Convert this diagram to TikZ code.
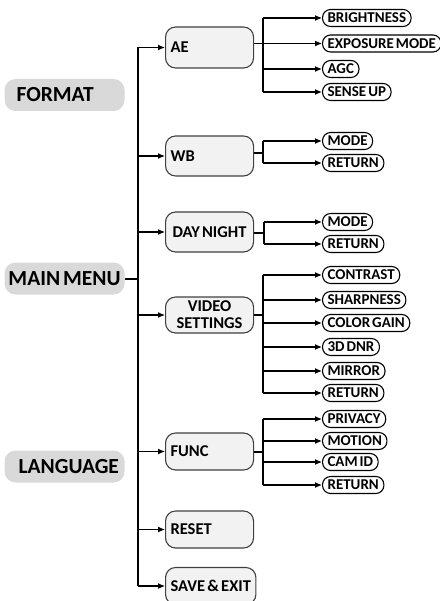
\documentclass[tikz,border=0pt]{standalone}
\usepackage{fontspec}
\setmainfont{Carlito}[WordSpace=0.6]
\usetikzlibrary{arrows.meta}
\definecolor{sidegray}{RGB}{217,217,217}
\definecolor{boxfill}{RGB}{242,242,242}
\definecolor{boxborder}{RGB}{64,64,64}
\begin{document}
\begin{tikzpicture}[x=1pt,y=-1pt,line width=1.1pt,
  sidebase/.style={fill=sidegray,rounded corners=11pt,font=\fontsize{21.5}{23}\selectfont\bfseries,inner ysep=0pt,minimum height=32pt,anchor=west},
  side/.style={sidebase,align=left},
  lvbase/.style={draw=boxborder,fill=boxfill,rounded corners=10pt,font=\fontsize{16.5}{17}\selectfont\bfseries,inner xsep=5pt,inner ysep=0pt,anchor=west},
  lvone/.style={lvbase,text width=78pt,align=left},
  lvtwo/.style={draw=black,fill=white,rounded corners=8pt,font=\fontsize{15}{16}\selectfont\bfseries,inner xsep=5pt,inner ysep=0pt,minimum height=17pt,anchor=west},
  arr/.style={-{Latex[length=7pt,width=6pt]}},
  bus/.style={line width=1.1pt}]
\useasboundingbox (0,0) rectangle (439,601);
% side labels
\node[side,inner xsep=12pt,text width=96pt] (fmt) at (4,95) {FORMAT};
\node[sidebase,inner xsep=1pt,minimum width=120pt] (main) at (4,278.5) {MAIN MENU};
\node[side,inner xsep=14pt,text width=92pt] (lang) at (4,466.5) {LANGUAGE};
% level one
\node[lvone,minimum height=41pt] (ae) at (165,47.5) {AE};
\node[lvone,minimum height=40pt] (wb) at (165,156) {WB};
\node[lvbase,minimum height=40pt,minimum width=88pt,inner xsep=4pt] (dn) at (165,232) {DAY NIGHT};
\node[lvone,minimum height=36pt,align=center] (vs) at (165,315) {VIDEO\\SETTINGS};
\node[lvone,minimum height=37pt] (fn) at (165,451.5) {FUNC};
\node[lvone,minimum height=37pt] (rs) at (165,529.5) {RESET};
\node[lvbase,minimum height=37pt] (se) at (165,586) {SAVE \& EXIT};
% main bus
\coordinate (mb) at (138,278.5);
\draw[line width=2pt] (main.east) -- (mb);
\draw[bus] (ae.west -| mb) -- (se.west -| mb);
\foreach \n in {ae,wb,dn,vs,fn,rs,se}
  \draw[arr] (\n.west -| mb) -- (\n.west);
% AE items
\node[lvtwo] (ae1) at (322,18) {BRIGHTNESS};
\node[lvtwo] (ae2) at (322,43.5) {EXPOSURE MODE};
\node[lvtwo] (ae3) at (322,69) {AGC};
\node[lvtwo] (ae4) at (322,92) {SENSE UP};
\coordinate (aeb) at (263,43.5);
\draw (ae.east |- ae2.west) -- (aeb);
\draw (ae1.west -| aeb) -- (ae4.west -| aeb);
\foreach \n in {ae1,ae2,ae3,ae4} \draw[arr] (\n.west -| aeb) -- (\n.west);
% WB items
\node[lvtwo] (wb1) at (322,141) {MODE};
\node[lvtwo] (wb2) at (322,163) {RETURN};
\coordinate (wbb) at (263,153);
\draw (wb.east |- wbb) -- (wbb);
\draw (wb1.west -| wbb) -- (wb2.west -| wbb);
\foreach \n in {wb1,wb2} \draw[arr] (\n.west -| wbb) -- (\n.west);
% DAY NIGHT items
\node[lvtwo] (dn1) at (322,222) {MODE};
\node[lvtwo] (dn2) at (322,244) {RETURN};
\coordinate (dnb) at (264,233);
\draw (dn.east |- dnb) -- (dnb);
\draw (dn1.west -| dnb) -- (dn2.west -| dnb);
\foreach \n in {dn1,dn2} \draw[arr] (\n.west -| dnb) -- (\n.west);
% VIDEO SETTINGS items
\node[lvtwo] (vs1) at (322,275) {CONTRAST};
\node[lvtwo] (vs2) at (322,300) {SHARPNESS};
\node[lvtwo] (vs3) at (322,323) {COLOR GAIN};
\node[lvtwo] (vs4) at (322,347) {3D DNR};
\node[lvtwo] (vs5) at (322,371) {MIRROR};
\node[lvtwo] (vs6) at (322,393) {RETURN};
\coordinate (vsb) at (263,315);
\draw (vs.east |- vsb) -- (vsb);
\draw (vs1.west -| vsb) -- (vs6.west -| vsb);
\foreach \n in {vs1,vs2,vs3,vs4,vs5,vs6} \draw[arr] (\n.west -| vsb) -- (\n.west);
% FUNC items
\node[lvtwo] (fn1) at (322,419) {PRIVACY};
\node[lvtwo] (fn2) at (322,441) {MOTION};
\node[lvtwo] (fn3) at (322,462) {CAM ID};
\node[lvtwo] (fn4) at (322,485) {RETURN};
\coordinate (fnb) at (263,452);
\draw (fn.east |- fnb) -- (fnb);
\draw (fn1.west -| fnb) -- (fn4.west -| fnb);
\foreach \n in {fn1,fn2,fn3,fn4} \draw[arr] (\n.west -| fnb) -- (\n.west);
\end{tikzpicture}
\end{document}
